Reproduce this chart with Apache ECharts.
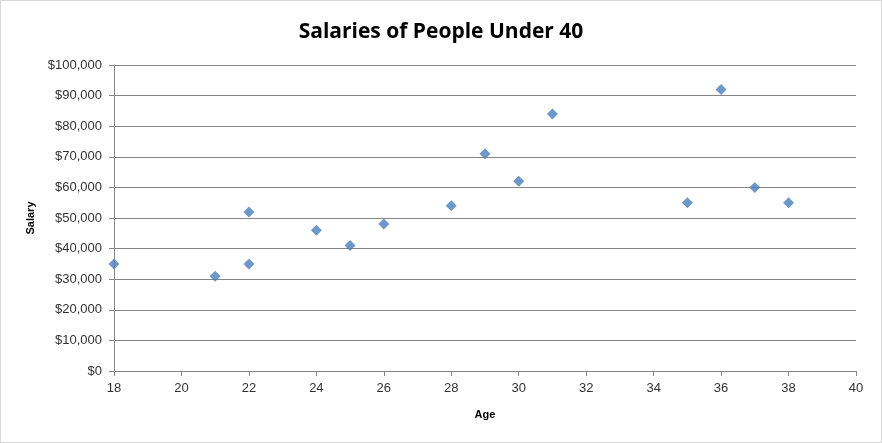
<!DOCTYPE html>
<html>
<head>
<meta charset="utf-8">
<script src="https://cdn.jsdelivr.net/npm/echarts@6/dist/echarts.min.js"></script>
<style>
html,body{margin:0;padding:0;background:#fff;}
#c{width:880px;height:441px;border:1px solid #d9d9d9;}
</style>
</head>
<body>
<div id="c"></div>
<script>
var ages = [18, 21, 22, 22, 24, 25, 26, 28, 29, 30, 31, 35, 36, 37, 38];
var salaries = [35000, 31000, 35000, 52000, 46000, 41000, 48000, 54000, 71000, 62000, 84000, 55000, 92000, 60000, 55000];

var points = ages.map(function (a, i) { return [a, salaries[i]]; });
var chart = echarts.init(document.getElementById('c'));
var font = 'Liberation Sans, Arial, sans-serif';
chart.setOption({
  animation: false,
  title: {
    text: 'Salaries of People Under 40',
    left: 'center',
    top: 16,
    textStyle: {fontFamily: 'Open Sans, sans-serif', fontSize: 21, fontWeight: 'bold', color: '#000'}
  },
  grid: {left: 113, right: 25, top: 64, bottom: 71},
  xAxis: {
    type: 'value', min: 18, max: 40, interval: 2,
    name: 'Age', nameLocation: 'middle', nameGap: 38,
    nameTextStyle: {fontFamily: font, fontSize: 11, fontWeight: 'bold', color: '#000'},
    axisLine: {show: true, lineStyle: {color: '#868686'}},
    axisTick: {show: true, length: 5, inside: false, lineStyle: {color: '#868686'}},
    axisLabel: {fontFamily: font, fontSize: 13, color: '#333', margin: 11},
    splitLine: {show: false}
  },
  yAxis: {
    type: 'value', min: 0, max: 100000, interval: 10000,
    name: 'Salary', nameLocation: 'middle', nameGap: 76, nameRotate: 90,
    nameTextStyle: {fontFamily: font, fontSize: 11, fontWeight: 'bold', color: '#000'},
    axisLine: {show: true, lineStyle: {color: '#868686'}},
    axisTick: {show: true, length: 5, lineStyle: {color: '#868686'}},
    axisLabel: {
      fontFamily: font, fontSize: 13, color: '#333', margin: 12,
      formatter: function (v) { return '$' + v.toLocaleString('en-US'); }
    },
    splitLine: {show: true, lineStyle: {color: '#868686', width: 1}}
  },
  series: [{
    type: 'scatter',
    symbol: 'diamond',
    symbolSize: 11,
    itemStyle: {color: '#4A7EBB'},
    data: points
  }]
});
</script>
</body>
</html>
